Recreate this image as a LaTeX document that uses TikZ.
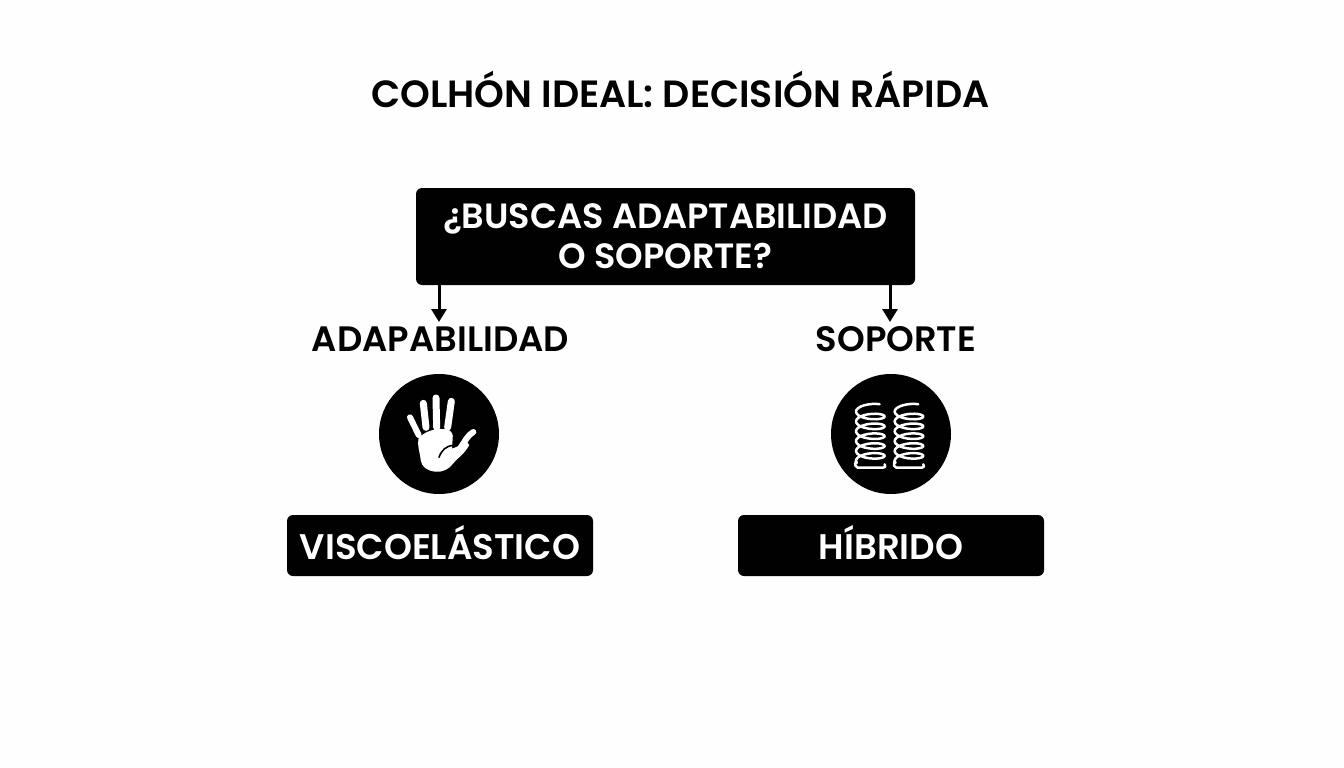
\documentclass[tikz,border=0pt]{standalone}
\usepackage{fontspec}
\setmainfont{Poppins}[UprightFont=* SemiBold]
\definecolor{ink}{HTML}{010101}
\definecolor{paper}{HTML}{FEFEFE}
\tikzset{
  blackbox/.style={fill=ink,rounded corners=6pt,inner sep=0pt,text=white,align=center},
  lbl/.style={text=ink,inner sep=0pt,font=\fontsize{35.3}{35.3}\selectfont},
  badge/.style={circle,fill=ink,minimum size=120pt,inner sep=0pt},
  conn/.style={draw=ink,line width=3pt,-{Triangle[length=13pt,width=15pt]}},
  coil/.style={draw=white,line width=2.5pt,line join=round,line cap=round},
}
\usetikzlibrary{arrows.meta}
\begin{document}
\begin{tikzpicture}[x=1pt,y=-1pt]
\fill[paper] (0,0) rectangle (1344,768);
\useasboundingbox (0,0) rectangle (1344,768);
\node[text=ink,inner sep=0pt,font=\fontsize{37.9}{37.9}\selectfont] (title) at (680.5,89) {COLHÓN IDEAL: DECISIÓN RÁPIDA};
\node[blackbox,minimum width=499pt,minimum height=97pt,font=\fontsize{35.1}{41}\selectfont] (main) at (665.5,236.5) {¿BUSCAS ADAPTABILIDAD\\[-1pt]O SOPORTE?};
\node[lbl] (adap) at (440.5,339) {ADAPABILIDAD};
\node[lbl] (sop) at (896,339) {SOPORTE};
\coordinate (a1) at (439,322);
\coordinate (s1) at (890,322);
\draw[conn] (main.south -| a1) -- (a1);
\draw[conn] (main.south -| s1) -- (s1);
\node[badge] (hand) at (439,434) {};
\node[badge] (spring) at (891,434) {};
\node[blackbox,minimum width=306pt,minimum height=61pt,font=\fontsize{35.6}{35.6}\selectfont] (visco) at (440,545.5) {\raisebox{7pt}{VISCOELÁSTICO}};
\node[blackbox,minimum width=306pt,minimum height=61pt,font=\fontsize{35.6}{35.6}\selectfont] (hib) at (891,545.5) {\raisebox{7pt}{HÍBRIDO}};
% hand
\begin{scope}[shift={(370,370)},x=0.3333pt,y=-0.3333pt]
\draw[white,line width=6pt,line cap=round] (120,142) -- (146,195);
\draw[white,line width=7pt,line cap=round] (160,100) -- (168,172);
\draw[white,line width=7pt,line cap=round] (198,84) -- (200,172);
\draw[white,line width=7pt,line cap=round] (244,94) -- (233,172);
\draw[white,line width=6pt,line cap=round] (310,186) .. controls (292,196) and (285,215) .. (270,235);
\fill[white] (146,203) .. controls (165,185) and (200,170) .. (236,180)
  .. controls (246,185) and (250,195) .. (248,205) -- (246,236) -- (272,226)
  -- (290,215) -- (298,225) .. controls (285,250) and (262,265) .. (250,280)
  .. controls (238,298) and (215,308) .. (195,305)
  .. controls (170,302) and (155,290) .. (152,270) .. controls (150,245) and (140,225) .. (146,203) -- cycle;
\draw[ink,line width=1.6pt,line cap=round] (207,262) .. controls (215,240) and (228,228) .. (250,226);
\end{scope}
% springs
\foreach \cx in {136,252}{
\begin{scope}[shift={(825,370)},x=0.3333pt,y=-0.3333pt]
\draw[coil] plot[smooth,samples=120,domain=50:2000,variable=\t] ({\cx+43*cos(\t)},{110+\t*0.082+15*sin(-\t)});
\draw[coil] (\cx+43,283) .. controls (\cx+47,290) and (\cx+45,293) .. (\cx+38,293) -- (\cx-38,293) .. controls (\cx-45,293) and (\cx-47,285) .. (\cx-43,272);
\end{scope}}
\end{tikzpicture}
\end{document}
